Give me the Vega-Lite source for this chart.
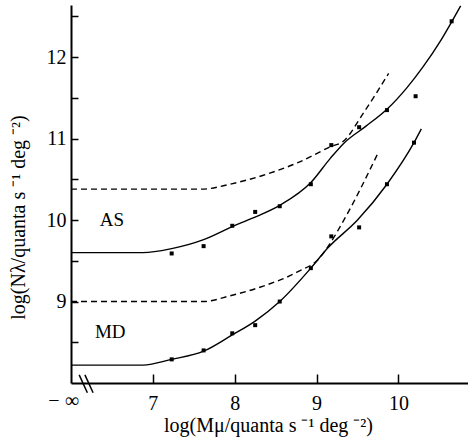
{
  "$schema": "https://vega.github.io/schema/vega-lite/v6.json",
  "width": 397,
  "height": 378,
  "autosize": {"type": "none"},
  "padding": {"left": 71, "top": 5, "right": 0, "bottom": 59},
  "background": "white",
  "config": {
    "view": {"stroke": null},
    "font": "Liberation Serif",
    "axis": {
      "labelFont": "Liberation Serif",
      "titleFont": "Liberation Serif",
      "labelColor": "black",
      "titleColor": "black",
      "titleFontWeight": "normal",
      "domainColor": "black",
      "domainWidth": 2,
      "grid": false,
      "labelFontSize": 20,
      "titleFontSize": 20
    }
  },
  "datasets": {
    "curves": [
      {"series": "AS", "style": "solid", "x": 6.0, "y": 9.6},
      {"series": "AS", "style": "solid", "x": 6.88, "y": 9.6},
      {"series": "AS", "style": "solid", "x": 7.23, "y": 9.65},
      {"series": "AS", "style": "solid", "x": 7.62, "y": 9.76},
      {"series": "AS", "style": "solid", "x": 7.97, "y": 9.92},
      {"series": "AS", "style": "solid", "x": 8.21, "y": 10.02},
      {"series": "AS", "style": "solid", "x": 8.55, "y": 10.18},
      {"series": "AS", "style": "solid", "x": 8.93, "y": 10.46},
      {"series": "AS", "style": "solid", "x": 9.17, "y": 10.76},
      {"series": "AS", "style": "solid", "x": 9.34, "y": 10.95},
      {"series": "AS", "style": "solid", "x": 9.6, "y": 11.15},
      {"series": "AS", "style": "solid", "x": 9.86, "y": 11.36},
      {"series": "AS", "style": "solid", "x": 10.1, "y": 11.62},
      {"series": "AS", "style": "solid", "x": 10.3, "y": 11.88},
      {"series": "AS", "style": "solid", "x": 10.52, "y": 12.21},
      {"series": "AS", "style": "solid", "x": 10.76, "y": 12.63},
      {"series": "MD", "style": "solid", "x": 6.0, "y": 8.22},
      {"series": "MD", "style": "solid", "x": 6.88, "y": 8.22},
      {"series": "MD", "style": "solid", "x": 7.23, "y": 8.29},
      {"series": "MD", "style": "solid", "x": 7.62, "y": 8.39},
      {"series": "MD", "style": "solid", "x": 7.97, "y": 8.59},
      {"series": "MD", "style": "solid", "x": 8.25, "y": 8.76},
      {"series": "MD", "style": "solid", "x": 8.55, "y": 9.0},
      {"series": "MD", "style": "solid", "x": 8.93, "y": 9.41},
      {"series": "MD", "style": "solid", "x": 9.13, "y": 9.65},
      {"series": "MD", "style": "solid", "x": 9.5, "y": 10.0},
      {"series": "MD", "style": "solid", "x": 9.86, "y": 10.44},
      {"series": "MD", "style": "solid", "x": 10.19, "y": 10.95},
      {"series": "MD", "style": "solid", "x": 10.28, "y": 11.12},
      {"series": "AS", "style": "dashed", "x": 6.0, "y": 10.38},
      {"series": "AS", "style": "dashed", "x": 7.6, "y": 10.38},
      {"series": "AS", "style": "dashed", "x": 7.94, "y": 10.44},
      {"series": "AS", "style": "dashed", "x": 8.35, "y": 10.55},
      {"series": "AS", "style": "dashed", "x": 8.76, "y": 10.7},
      {"series": "AS", "style": "dashed", "x": 9.17, "y": 10.9},
      {"series": "AS", "style": "dashed", "x": 9.33, "y": 10.97},
      {"series": "AS", "style": "dashed", "x": 9.57, "y": 11.31},
      {"series": "AS", "style": "dashed", "x": 9.88, "y": 11.8},
      {"series": "MD", "style": "dashed", "x": 6.0, "y": 9.0},
      {"series": "MD", "style": "dashed", "x": 7.62, "y": 9.0},
      {"series": "MD", "style": "dashed", "x": 7.94, "y": 9.07},
      {"series": "MD", "style": "dashed", "x": 8.35, "y": 9.19},
      {"series": "MD", "style": "dashed", "x": 8.76, "y": 9.36},
      {"series": "MD", "style": "dashed", "x": 9.05, "y": 9.55},
      {"series": "MD", "style": "dashed", "x": 9.13, "y": 9.66},
      {"series": "MD", "style": "dashed", "x": 9.35, "y": 10.03},
      {"series": "MD", "style": "dashed", "x": 9.74, "y": 10.8}
    ],
    "points": [
      {"series": "AS", "x": 7.23, "y": 9.59},
      {"series": "AS", "x": 7.62, "y": 9.68},
      {"series": "AS", "x": 7.97, "y": 9.93},
      {"series": "AS", "x": 8.25, "y": 10.1},
      {"series": "AS", "x": 8.55, "y": 10.17},
      {"series": "AS", "x": 8.93, "y": 10.44},
      {"series": "AS", "x": 9.18, "y": 10.92},
      {"series": "AS", "x": 9.52, "y": 11.14},
      {"series": "AS", "x": 9.86, "y": 11.35},
      {"series": "AS", "x": 10.21, "y": 11.52},
      {"series": "AS", "x": 10.65, "y": 12.44},
      {"series": "MD", "x": 7.23, "y": 8.29},
      {"series": "MD", "x": 7.62, "y": 8.4},
      {"series": "MD", "x": 7.97, "y": 8.61},
      {"series": "MD", "x": 8.25, "y": 8.71},
      {"series": "MD", "x": 8.55, "y": 9.0},
      {"series": "MD", "x": 8.93, "y": 9.41},
      {"series": "MD", "x": 9.18, "y": 9.8},
      {"series": "MD", "x": 9.52, "y": 9.91},
      {"series": "MD", "x": 9.86, "y": 10.44},
      {"series": "MD", "x": 10.19, "y": 10.95}
    ],
    "labels": [
      {"label": "AS", "x": 6.5, "y": 10.0},
      {"label": "MD", "x": 6.48, "y": 8.62}
    ],
    "breaks": [
      {"x": 6.1, "y": 8.1, "x2": 6.2, "y2": 7.88},
      {"x": 6.17, "y": 8.1, "x2": 6.27, "y2": 7.88}
    ],
    "inf": [
      {"label": "− ∞", "x": 5.91, "y": 8.0}
    ]
  },
  "layer": [
    {
      "data": {"name": "curves"},
      "transform": [{"filter": "datum.style === 'solid'"}],
      "mark": {"type": "line", "interpolate": "monotone", "color": "black", "strokeWidth": 1.4},
      "encoding": {
        "x": {
          "field": "x", "type": "quantitative",
          "scale": {"domain": [6, 10.85], "nice": false, "zero": false},
          "axis": {
            "values": [7, 8, 9, 10],
            "format": "d",
            "ticks": true,
            "tickColor": "black",
            "tickWidth": 1.5,
            "tickSize": -9,
            "labelPadding": 19,
            "title": "log(Mμ/quanta s ⁻¹  deg ⁻²)",
            "titleX": 197,
            "titleY": 48,
            "titleAlign": "center",
            "titleBaseline": "alphabetic"
          }
        },
        "y": {
          "field": "y", "type": "quantitative",
          "scale": {"domain": [8.0, 12.64], "nice": false, "zero": false},
          "axis": {
            "values": [8.5, 9, 9.5, 10, 10.5, 11, 11.5, 12, 12.5],
            "labelExpr": "datum.value % 1 === 0 ? datum.value : ''",
            "ticks": true,
            "tickColor": "black",
            "tickWidth": 1.5,
            "tickSize": -7,
            "labelPadding": 12,
            "title": "log(Nλ/quanta s ⁻¹  deg ⁻²)",
            "titleX": -53,
            "titleY": 212,
            "titleAlign": "center",
            "titleBaseline": "middle",
            "titleAngle": -90
          }
        },
        "detail": {"field": "series"}
      }
    },
    {
      "data": {"name": "curves"},
      "transform": [{"filter": "datum.style === 'dashed'"}],
      "mark": {"type": "line", "interpolate": "monotone", "color": "black", "strokeWidth": 1.4, "strokeDash": [6, 4]},
      "encoding": {
        "x": {"field": "x", "type": "quantitative"},
        "y": {"field": "y", "type": "quantitative"},
        "detail": {"field": "series"}
      }
    },
    {
      "data": {"name": "points"},
      "mark": {"type": "square", "color": "black", "filled": true, "size": 16, "opacity": 1},
      "encoding": {
        "x": {"field": "x", "type": "quantitative"},
        "y": {"field": "y", "type": "quantitative"}
      }
    },
    {
      "data": {"name": "labels"},
      "mark": {"type": "text", "font": "Liberation Serif", "fontSize": 19, "color": "black", "align": "center", "baseline": "middle"},
      "encoding": {
        "x": {"field": "x", "type": "quantitative"},
        "y": {"field": "y", "type": "quantitative"},
        "text": {"field": "label"}
      }
    },
    {
      "data": {"name": "breaks"},
      "mark": {"type": "rule", "color": "black", "strokeWidth": 1.5},
      "encoding": {
        "x": {"field": "x", "type": "quantitative"},
        "y": {"field": "y", "type": "quantitative"},
        "x2": {"field": "x2"},
        "y2": {"field": "y2"}
      }
    },
    {
      "data": {"name": "inf"},
      "mark": {"type": "text", "font": "Liberation Serif", "fontSize": 20, "color": "black", "align": "center", "baseline": "top", "dy": 8},
      "encoding": {
        "x": {"field": "x", "type": "quantitative"},
        "y": {"field": "y", "type": "quantitative"},
        "text": {"field": "label"}
      }
    }
  ]
}
